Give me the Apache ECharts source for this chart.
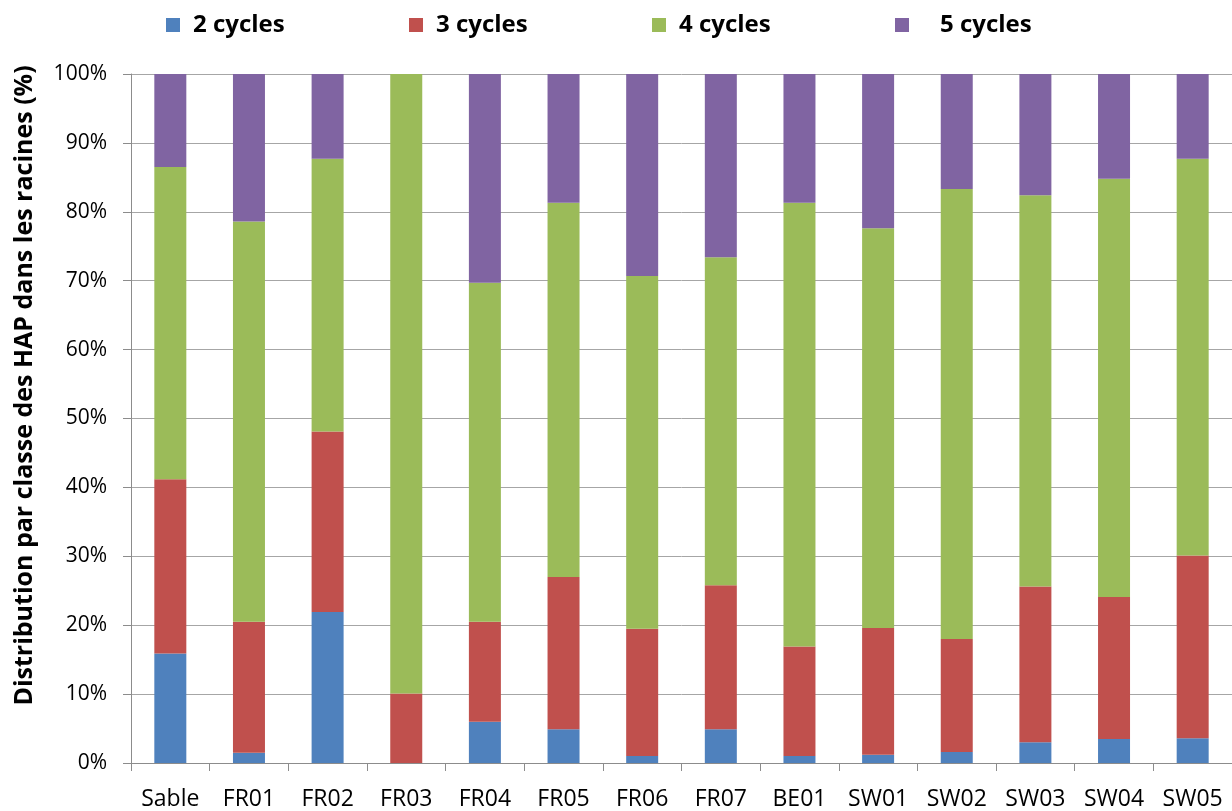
<!DOCTYPE html>
<html>
<head>
<meta charset="utf-8">
<script src="https://cdn.jsdelivr.net/npm/echarts@6/dist/echarts.min.js"></script>
<style>
  html, body { margin: 0; padding: 0; background: #fff; }
  #chart { width: 1232px; height: 811px; }
</style>
</head>
<body>
<div id="chart"></div>
<script>
const categories = ['Sable', 'FR01', 'FR02', 'FR03', 'FR04', 'FR05', 'FR06', 'FR07', 'BE01', 'SW01', 'SW02', 'SW03', 'SW04', 'SW05']
const cycles2 = [15.9, 1.5, 21.9, 0, 6.0, 4.9, 1.0, 4.9, 1.0, 1.2, 1.6, 3.0, 3.5, 3.6]
const cycles3 = [25.3, 19.0, 26.2, 10.1, 14.5, 22.1, 18.5, 20.9, 15.9, 18.4, 16.4, 22.6, 20.6, 26.5]
const cycles4 = [45.3, 58.1, 39.6, 89.9, 49.2, 54.3, 51.2, 47.6, 64.4, 58.0, 65.3, 56.8, 60.7, 57.6]
const cycles5 = [13.5, 21.4, 12.3, 0, 30.3, 18.7, 29.3, 26.6, 18.7, 22.4, 16.7, 17.6, 15.2, 12.3]
const seriesNames = ['2 cycles', '3 cycles', '4 cycles', '5 cycles']
const colors = ['#4F81BD', '#C0504D', '#9BBB59', '#8064A2']

const chart = echarts.init(document.getElementById('chart'))

const legendLefts = [161, 404, 647, 890]
const legends = seriesNames.map((name, i) => ({
  data: [name],
  left: legendLefts[i],
  top: 8,
  itemWidth: 14,
  itemHeight: 14,
  icon: 'rect',
  textStyle: {
    fontFamily: 'Open Sans',
    fontWeight: 'bold',
    fontSize: 24,
    color: '#000',
    padding: [0, 0, 0, i === 3 ? 26 : 8]
  }
}))

const makeSeries = (name, values, i) => ({
  name: name,
  type: 'bar',
  stack: 'total',
  barWidth: 32,
  data: values,
  itemStyle: { color: colors[i] },
  emphasis: { disabled: true }
})

const option = {
  animation: false,
  color: colors,
  legend: legends,
  grid: { left: 131, top: 74, width: 1109, height: 690, containLabel: false },
  xAxis: {
    type: 'category',
    data: categories,
    axisLine: { lineStyle: { color: '#8C8C8C', width: 1 } },
    axisTick: { show: true, length: 8, lineStyle: { color: '#8C8C8C' } },
    axisLabel: { fontFamily: 'Open Sans', fontSize: 23, color: '#000', margin: 25, interval: 0 }
  },
  yAxis: {
    type: 'value',
    min: 0,
    max: 100,
    interval: 10,
    name: 'Distribution par classe des HAP dans les racines (%)',
    nameLocation: 'middle',
    nameRotate: 90,
    nameGap: 94,
    nameTextStyle: { fontFamily: 'Open Sans', fontWeight: 'bold', fontSize: 25, color: '#000', padding: [0, 0, 0, 66] },
    axisLine: { show: true, lineStyle: { color: '#8C8C8C', width: 1 } },
    axisTick: { show: true, length: 8, lineStyle: { color: '#8C8C8C' } },
    splitLine: { lineStyle: { color: '#A6A6A6', width: 1 } },
    axisLabel: { fontFamily: 'Open Sans', fontSize: 21, color: '#000', margin: 24, formatter: '{value}%' }
  },
  series: [
    makeSeries(seriesNames[0], cycles2, 0),
    makeSeries(seriesNames[1], cycles3, 1),
    makeSeries(seriesNames[2], cycles4, 2),
    makeSeries(seriesNames[3], cycles5, 3)
  ]
}

chart.setOption(option)

window.addEventListener('resize', () => {
  chart.resize()
})
</script>
</body>
</html>
